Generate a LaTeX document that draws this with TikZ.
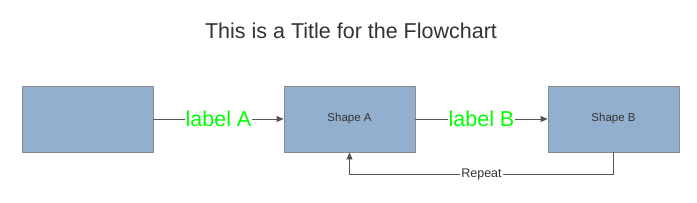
\documentclass[tikz,border=0pt]{standalone}
\usepackage{fontspec}
\setmainfont{Liberation Sans}
\usetikzlibrary{arrows.meta}
\definecolor{boxfill}{HTML}{92AFCD}
\definecolor{boxline}{HTML}{8A8A8A}
\definecolor{conn}{HTML}{555555}
\definecolor{txt}{HTML}{333333}
\definecolor{lgreen}{HTML}{00FF00}
\begin{document}
\begin{tikzpicture}[x=1pt,y=-1pt,
  shapebox/.style={draw=boxline,fill=boxfill,line width=0.8pt,minimum width=131pt,minimum height=66pt,inner sep=0pt,font=\fontsize{11.5}{13}\selectfont,text=txt},
  conline/.style={draw=conn,line width=0.8pt,-{Triangle[length=7pt,width=6pt]}},
  biglabel/.style={font=\fontsize{21.5}{24}\selectfont,text=lgreen,fill=white,inner sep=1pt},
  smalllabel/.style={font=\fontsize{12.5}{14}\selectfont,text=txt,fill=white,inner sep=1pt}]
\useasboundingbox (0,0) rectangle (697,202);
\node[font=\fontsize{21.5}{24}\selectfont,text=txt] (title) at (351,31) {This is a Title for the Flowchart};
\node[shapebox] (s0) at (87.5,119) {};
\node[shapebox] (sa) at (349.5,119) {Shape A};
\node[shapebox] (sb) at (613.5,119) {Shape B};
\draw[conline] (s0) -- node[biglabel] {label A} (sa);
\draw[conline] (sa) -- node[biglabel] {label B} (sb);
\coordinate (c1) at (613.5,174);
\coordinate (c2) at (349.5,174);
\draw[conline] (sb.south) -- (c1) -- node[smalllabel,pos=0.5] {Repeat} (c2) -- (sa.south);
\end{tikzpicture}
\end{document}
